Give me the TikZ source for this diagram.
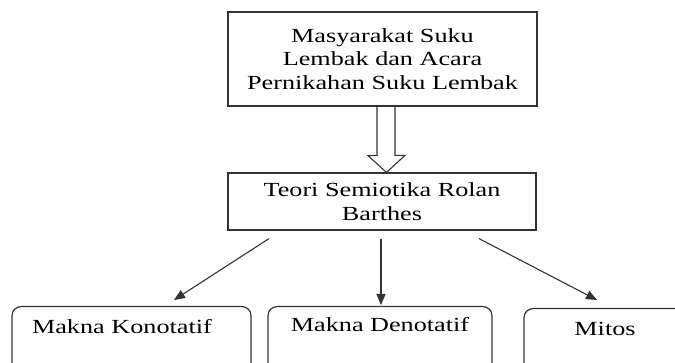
\documentclass[tikz,border=0pt]{standalone}
\usepackage{fontspec}
\setmainfont{Liberation Serif}[FakeStretch=1.31]
\usetikzlibrary{arrows.meta}
\tikzset{
    kotak/.style={draw=black!80, line width=1.2pt, inner sep=0pt, align=center,
        font=\fontsize{20}{23.5}\selectfont},
    kotakbawah/.style={kotak, rounded corners=9pt, anchor=north,
        text height=27pt, text depth=42pt},
    panah/.style={draw=black!80, line width=1.1pt, -{Triangle[length=11pt,width=9pt]}},
    blok/.style={draw=black!80, line width=1.1pt, line join=miter}
}
\begin{document}
\begin{tikzpicture}[x=1pt, y=-1pt]
        \useasboundingbox (0,0) rectangle (675,363);
        \clip (0,0) rectangle (675,363);
        \node[kotak, minimum width=309pt, minimum height=94pt] (atas) at (382.5, 59) {Masyarakat Suku\\Lembak dan Acara\\Pernikahan Suku Lembak};
        \node[kotak, minimum width=308pt, minimum height=57pt] (teori) at (382, 201.5) {Teori Semiotika Rolan\\Barthes};
        \node[kotakbawah, text width=199pt, align=left, inner xsep=20pt] (konotatif) at (131.5, 306) {Makna Konotatif};
        \node[kotakbawah, minimum width=224pt, text height=25pt, text depth=44pt] (denotatif) at (380, 306) {Makna Denotatif};
        \node[kotakbawah, minimum width=162pt] (mitos) at (605, 308) {Mitos};
        \draw[blok] ([xshift=-5.5pt]atas.south) -- ++(0,49) -- ++(-9,0) -- (teori.north -| 386.5,0) -- ++(18.5,-17) -- ++(-10,0) -- ([xshift=12.5pt]atas.south);
        \draw[panah] ([xshift=-113pt, yshift=-8pt]teori.south) -- ([xshift=42.5pt, yshift=6pt]konotatif.north);
        \draw[panah] ([xshift=-1pt, yshift=-8pt]teori.south) -- ([xshift=1pt, yshift=1pt]denotatif.north);
        \draw[panah] ([xshift=97pt, yshift=-8pt]teori.south) -- ([xshift=-8pt, yshift=8pt]mitos.north);
    \end{tikzpicture}
\end{document}
